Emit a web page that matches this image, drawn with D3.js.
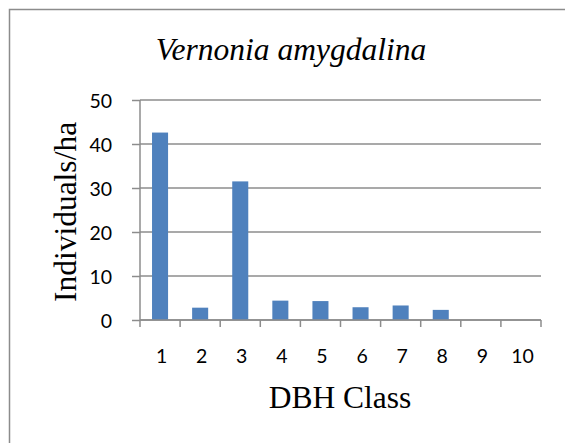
<!DOCTYPE html>
<html>
<head>
<meta charset="utf-8">
<script src="https://cdn.jsdelivr.net/npm/d3@7"></script>
<style>
	body{margin:0;background:#fff;}
</style>
</head>
<body>
<script>
// chart values
const classes = ["1","2","3","4","5","6","7","8","9","10"];
const density = [42.6, 2.8, 31.5, 4.4, 4.3, 2.9, 3.3, 2.3, 0, 0];
const yTicks = [0, 10, 20, 30, 40, 50];

const width = 565;
const height = 443;
const margin = {top:100,left:140,right:24,bottom:123};
const innerWidth = width - margin.left - margin.right;
const innerHeight = height - margin.top - margin.bottom;
const serif = "'Liberation Serif', Tinos, 'Times New Roman', Times, serif";
const sans = "Lato, Carlito, 'Open Sans', sans-serif";

let svg = d3.select("body")
	.append("svg")
	.attr("width",width)
	.attr("height",height);

// outer frame, only its top and left edges fall inside the picture
svg.append("path")
	.attr("d","M9.5,"+height+"V9.5H"+width)
	.attr("fill","none")
	.attr("stroke","#8c8c8c")
	.attr("stroke-width",1.5);

let xScale = d3.scaleBand()
	.domain(classes)
	.range([0,innerWidth])
	.paddingInner(0.6)
	.paddingOuter(0.3);
let xBand = d3.scaleBand()
	.domain(classes)
	.range([0,innerWidth]);
let yScale = d3.scaleLinear()
	.domain([0,50])
	.range([innerHeight,0]);

let g = svg.append("g")
	.attr("transform","translate("+margin.left+","+margin.top+")");

//gridlines
g.append("g")
	.selectAll("line")
	.data(yTicks)
	.enter().append("line")
		.attr("x1",0)
		.attr("x2",innerWidth)
		.attr("y1",d=>yScale(d))
		.attr("y2",d=>yScale(d))
		.attr("stroke","#8c8c8c")
		.attr("stroke-width",1.5);

//bars
g.selectAll(".bar")
	.data(density)
	.enter().append("rect")
		.attr("class","bar")
		.attr("x",(d,i)=>xScale(classes[i]))
		.attr("width",xScale.bandwidth())
		.attr("y",d=>yScale(d))
		.attr("height",d=>innerHeight-yScale(d))
		.attr("fill","#4f81bd");

//y-axis
let yAxis = g.append("g")
	.call(d3.axisLeft(yScale).tickValues(yTicks).tickSize(8).tickPadding(20))
	.attr("font-family",sans)
	.attr("font-size",19.5);
yAxis.selectAll("line,path").attr("stroke","#8c8c8c").attr("stroke-width",1.5);
yAxis.select(".domain").attr("d","M0,"+innerHeight+"V0");
yAxis.selectAll("text").attr("fill","#000").attr("dy",null).attr("y",7);

//x-axis, ticks sit between the classes
let xAxis = g.append("g")
	.attr("transform","translate(0,"+innerHeight+")")
	.call(d3.axisBottom(xBand).tickSize(0).tickPadding(28))
	.attr("font-family",sans)
	.attr("font-size",19.5);
xAxis.select(".domain").attr("stroke","#8c8c8c").attr("stroke-width",1.5).attr("d","M0,0H"+innerWidth);
xAxis.selectAll("text").attr("fill","#000").attr("dy",null).attr("y",43).attr("dx",1.5);
xAxis.selectAll(".sep")
	.data(d3.range(classes.length+1))
	.enter().append("line")
		.attr("class","sep")
		.attr("x1",i=>i*xBand.step())
		.attr("x2",i=>i*xBand.step())
		.attr("y1",0)
		.attr("y2",7)
		.attr("stroke","#8c8c8c")
		.attr("stroke-width",1.5);

//titles
svg.append("text")
	.attr("x",291)
	.attr("y",60)
	.attr("text-anchor","middle")
	.style("font-family",serif)
	.style("font-size","31.5px")
	.style("font-style","italic")
	.text("Vernonia amygdalina");
svg.append("text")
	.attr("x",340)
	.attr("y",408)
	.attr("text-anchor","middle")
	.style("font-family",serif)
	.style("font-size","31.5px")
	.text("DBH Class");
svg.append("text")
	.attr("transform","translate(76,212) rotate(-90)")
	.attr("text-anchor","middle")
	.style("font-family",serif)
	.style("font-size","31.5px")
	.text("Individuals/ha");
</script>
</body>
</html>
